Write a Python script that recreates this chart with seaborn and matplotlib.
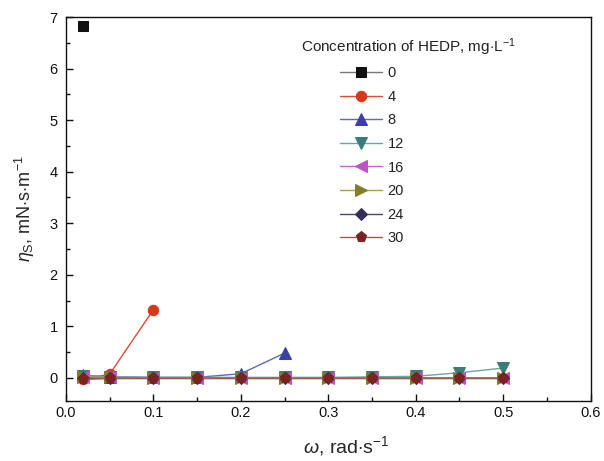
import matplotlib
matplotlib.use("Agg")
import matplotlib.pyplot as plt
import numpy as np
import pandas as pd
import seaborn as sns

# data
omega = [0.02, 0.05, 0.1, 0.15, 0.2, 0.25, 0.3, 0.35, 0.4, 0.45, 0.5]
conc_labels = ["0", "4", "8", "12", "16", "20", "24", "30"]
eta_0 = [6.83]
eta_4 = [-0.02, 0.07, 1.32]
eta_8 = [0.05, 0.02, 0.01, 0.01, 0.08, 0.48]
eta_12 = [0.04, 0.02, 0.01, 0.01, 0.01, 0.01, 0.01, 0.02, 0.03, 0.10, 0.19]
eta_16 = [0.02, 0.01, 0.0, 0.0, 0.0, 0.0, 0.0, 0.0, 0.0, 0.0, 0.0]
eta_20 = [0.02, 0.01, 0.0, 0.0, 0.0, 0.0, 0.0, 0.0, 0.0, 0.0, 0.0]
eta_24 = [0.0, 0.0, 0.0, 0.0, 0.0, 0.0, 0.0, 0.0, 0.0, 0.0, 0.0]
eta_30 = [-0.03, -0.01, -0.01, -0.01, -0.01, -0.01, -0.01, -0.01, -0.01, -0.01, -0.01]
all_eta = [eta_0, eta_4, eta_8, eta_12, eta_16, eta_20, eta_24, eta_30]

marker_colors = ["#111111", "#d8381a", "#3a40a6", "#3b7c78", "#c052c4", "#857c28", "#34305c", "#7a2420"]
line_colors = ["#777777", "#e04a30", "#6068b8", "#6aa6a2", "#c862cc", "#a39c5a", "#4a4670", "#a05a55"]
markers = ["s", "o", "^", "v", "<", ">", "D", "p"]
msizes = [6.5, 7.5, 8, 8, 8, 8, 6.5, 8]

rows = []
for lab, vals in zip(conc_labels, all_eta):
    for x, y in zip(omega, vals):
        rows.append({"omega": x, "eta": y, "conc": lab})
df = pd.DataFrame(rows)

sns.set_style("ticks")
plt.rcParams["font.family"] = ["Liberation Sans", "DejaVu Sans"]
plt.rcParams["mathtext.fontset"] = "custom"
plt.rcParams["mathtext.it"] = "Liberation Sans:italic"
plt.rcParams["mathtext.rm"] = "Liberation Sans"

W, H = 604, 461
fig = plt.figure(figsize=(W / 100, H / 100), dpi=100)
ax = fig.add_axes([0.109, 0.130, 0.869, 0.833])

for i, lab in enumerate(conc_labels):
    sub = df[df.conc == lab]
    sns.lineplot(data=sub, x="omega", y="eta", ax=ax, color=line_colors[i],
                 marker=markers[i], markersize=msizes[i],
                 markerfacecolor=marker_colors[i], markeredgecolor=marker_colors[i],
                 linewidth=1.0, label=lab, estimator=None, sort=False)

ax.set_xlim(0, 0.6)
ax.set_ylim(-0.45, 7)
ax.set_xticks(np.arange(0, 0.61, 0.1))
ax.set_xticks(np.arange(0, 0.61, 0.05), minor=True)
ax.set_yticks(range(0, 8))
ax.set_yticks(np.arange(0, 7.01, 0.5), minor=True)
ax.xaxis.set_major_formatter(matplotlib.ticker.FormatStrFormatter("%.1f"))
ax.tick_params(which="both", direction="in", top=False, right=False, labelsize=10.5,
               width=1.0, colors="#111111")
ax.tick_params(axis="y", pad=6)
ax.tick_params(which="major", length=5)
ax.tick_params(which="minor", length=3)
for s in ax.spines.values():
    s.set_linewidth(1.0)
    s.set_color("#111111")

ax.set_xlabel(r"$\omega$, rad$\cdot$s$^{-1}$", fontsize=14)
ax.xaxis.set_label_coords(0.535, -0.085)
ax.set_ylabel(r"$\eta_{\mathrm{S}}$, mN$\cdot$s$\cdot$m$^{-1}$", fontsize=13, labelpad=9)

fig.text(301 / W, 1 - 47 / H, r"Concentration of HEDP, mg$\cdot$L$^{-1}$", fontsize=11,
         ha="left", va="center", color="#222222")
leg = ax.legend(loc="upper left", bbox_to_anchor=(340 / W, 1 - 66 / H),
                bbox_transform=fig.transFigure, frameon=False, fontsize=10.5,
                labelspacing=0.66, handlelength=2.9, handletextpad=0.35,
                borderpad=0, borderaxespad=0)
for t in leg.get_texts():
    t.set_color("#222222")

fig.savefig("out.png", dpi=100)
